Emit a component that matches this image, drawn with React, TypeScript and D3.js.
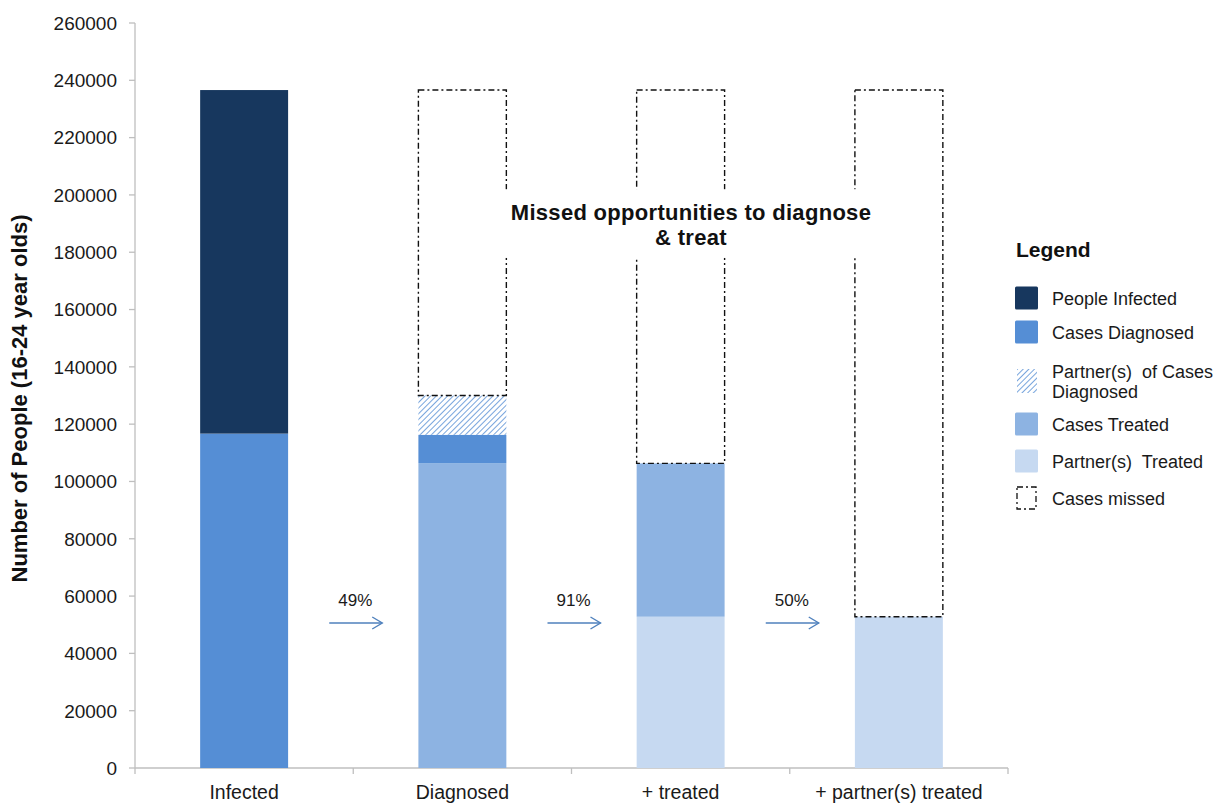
import React from "react";
import * as d3 from "d3";

// ---- data ----
const categories = ["Infected", "Diagnosed", "+ treated", "+ partner(s) treated"];
const partnersTreated = [0, 0, 52800, 52800];
const casesTreated = [0, 106400, 53500, 0];
const casesDiagnosed = [116700, 9900, 0, 0];
const partnersOfCasesDiagnosed = [0, 13700, 0, 0];
const peopleInfected = [119900, 0, 0, 0];
const casesMissed = [0, 106600, 130300, 183800];
const conversionLabels = ["49%", "91%", "50%"];
const yTicks = d3.range(0, 260001, 20000);
const legendLabels = [
  ["People Infected"],
  ["Cases Diagnosed"],
  ["Partner(s)  of Cases", "Diagnosed"],
  ["Cases Treated"],
  ["Partner(s)  Treated"],
  ["Cases missed"],
];
const annotationLines = ["Missed opportunities to diagnose", "& treat"];
const yTitle = "Number of People (16-24 year olds)";

const keys = [
  "partnersTreated",
  "casesTreated",
  "casesDiagnosed",
  "partnersOfCasesDiagnosed",
  "peopleInfected",
  "casesMissed",
];
const seriesByKey: Record<string, number[]> = {
  partnersTreated,
  casesTreated,
  casesDiagnosed,
  partnersOfCasesDiagnosed,
  peopleInfected,
  casesMissed,
};
const table = categories.map((c, i) => {
  const row: any = { category: c };
  keys.forEach((k) => (row[k] = seriesByKey[k][i]));
  return row;
});

const FONT = "'Liberation Sans', Arial, sans-serif";
const colors: Record<string, string> = {
  peopleInfected: "#17375E",
  casesDiagnosed: "#558ED5",
  partnersOfCasesDiagnosed: "url(#hatch)",
  casesTreated: "#8DB3E2",
  partnersTreated: "#C6D9F1",
  casesMissed: "none",
};
const legendKeys = [
  "peopleInfected",
  "casesDiagnosed",
  "partnersOfCasesDiagnosed",
  "casesTreated",
  "partnersTreated",
  "casesMissed",
];
const DASH = "6,3,2,3";
const ARROW = "#4F81BD";

export default function App() {
  const W = 1214;
  const H = 803;
  const x0 = 135,
    x1 = 1008,
    yBottom = 768,
    yTop = 23;

  const x = d3.scaleBand<string>().domain(categories).range([x0, x1]).padding(0);
  const y = d3.scaleLinear().domain([0, 260000]).range([yBottom, yTop]);
  const barW = x.bandwidth() * 0.403;

  const stacked = d3.stack<any>().keys(keys)(table);

  const legendRows = [298, 332, 381, 424, 461, 498];

  return (
    <svg
      width={W}
      height={H}
      style={{ position: "absolute", left: 0, top: 0, background: "#fff" }}
      fontFamily={FONT}
    >
      <defs>
        <pattern
          id="hatch"
          patternUnits="userSpaceOnUse"
          width={4}
          height={4}
          patternTransform="rotate(45)"
        >
          <rect width={4} height={4} fill="#fff" />
          <line x1={0} y1={0} x2={0} y2={4} stroke="#558ED5" strokeWidth={1.6} />
        </pattern>
      </defs>

      {/* y axis */}
      <line x1={x0} x2={x0} y1={yTop} y2={yBottom} stroke="#BFBFBF" strokeWidth={1.3} />
      {yTicks.map((t) => (
        <g key={t}>
          <line x1={x0 - 6} x2={x0} y1={y(t)} y2={y(t)} stroke="#BFBFBF" strokeWidth={1.3} />
          <text x={117} y={y(t)} dy="0.36em" textAnchor="end" fontSize={19} fill="#1a1a1a">
            {t}
          </text>
        </g>
      ))}
      <text
        transform={`translate(27,${(yTop + yBottom) / 2 + 3}) rotate(-90)`}
        textAnchor="middle"
        fontSize={22}
        fontWeight="bold"
        fill="#111"
      >
        {yTitle}
      </text>

      {/* x axis */}
      <line x1={x0} x2={x1} y1={yBottom} y2={yBottom} stroke="#BFBFBF" strokeWidth={1.3} />
      {[...categories.map((c) => x(c)!), x1].map((px, i) => (
        <line key={i} x1={px} x2={px} y1={yBottom} y2={yBottom + 6} stroke="#BFBFBF" strokeWidth={1.3} />
      ))}
      {categories.map((c) => (
        <text
          key={c}
          x={x(c)! + x.bandwidth() / 2}
          y={799}
          textAnchor="middle"
          fontSize={19.5}
          fill="#1a1a1a"
        >
          {c}
        </text>
      ))}

      {/* bars */}
      {stacked.map((s) =>
        s.map((d, i) => {
          const h = y(d[0]) - y(d[1]);
          if (h <= 0) return null;
          const cx = x(categories[i])! + x.bandwidth() / 2;
          const missed = s.key === "casesMissed";
          return (
            <rect
              key={s.key + i}
              x={cx - barW / 2}
              y={y(d[1])}
              width={barW}
              height={h}
              fill={missed ? "none" : colors[s.key]}
              stroke={missed ? "#111" : "none"}
              strokeWidth={missed ? 1.4 : 0}
              strokeDasharray={missed ? DASH : undefined}
            />
          );
        })
      )}

      {/* annotation box & text */}
      <rect x={500} y={y(202000)} width={380} height={y(178000) - y(202000)} fill="#fff" />
      {annotationLines.map((t, i) => (
        <text
          key={t}
          x={691}
          y={220 + i * 25}
          textAnchor="middle"
          fontSize={22}
          letterSpacing={0.3}
          fontWeight="bold"
          fill="#111"
        >
          {t}
        </text>
      ))}

      {/* conversion arrows */}
      {conversionLabels.map((lab, i) => {
        const bx = x(categories[i])! + x.bandwidth() + 2;
        const ay = 623;
        return (
          <g key={lab}>
            <text x={bx} y={606} textAnchor="middle" fontSize={17} fill="#1a1a1a">
              {lab}
            </text>
            <line x1={bx - 26} x2={bx + 27} y1={ay} y2={ay} stroke={ARROW} strokeWidth={1.4} />
            <polyline
              points={`${bx + 17},${ay - 6} ${bx + 27},${ay} ${bx + 17},${ay + 6}`}
              fill="none"
              stroke={ARROW}
              strokeWidth={1.4}
            />
          </g>
        );
      })}

      {/* legend */}
      <text x={1016} y={257} fontSize={21} fontWeight="bold" fill="#111">
        Legend
      </text>
      {legendKeys.map((k, i) => {
        const cy = legendRows[i];
        const lines = legendLabels[i];
        return (
          <g key={k}>
            {k === "casesMissed" ? (
              <rect
                x={1017}
                y={cy - 11}
                width={19}
                height={22}
                fill="none"
                stroke="#111"
                strokeWidth={1.3}
                strokeDasharray={DASH}
              />
            ) : k === "partnersOfCasesDiagnosed" ? (
              <rect x={1017} y={cy - 12} width={20} height={24} fill={colors[k]} />
            ) : (
              <rect x={1015} y={cy - 11.5} width={23} height={23} rx={1.5} fill={colors[k]} />
            )}
            {lines.map((ln, j) => (
              <text
                key={j}
                x={1052}
                y={cy + 7 + (j - (lines.length - 1) / 2) * 20}
                fontSize={18}
                fill="#1a1a1a"
                style={{ whiteSpace: "pre" }}
              >
                {ln}
              </text>
            ))}
          </g>
        );
      })}
    </svg>
  );
}
